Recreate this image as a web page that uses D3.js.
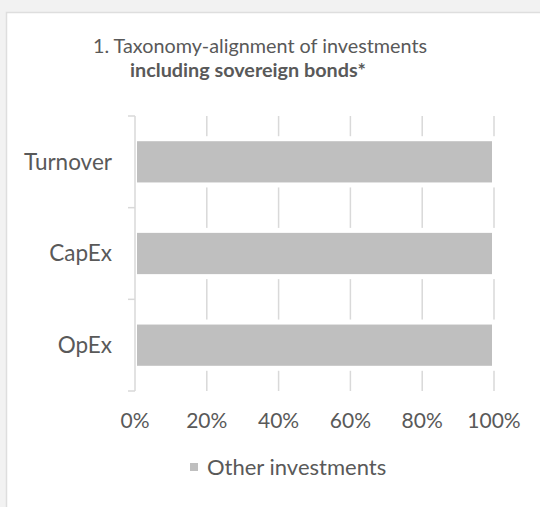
<!DOCTYPE html>
<html>
<head>
<meta charset="utf-8">
<script src="https://cdn.jsdelivr.net/npm/d3@7"></script>
<style>
  html, body { margin: 0; padding: 0; background: #f2f2f2; }
  svg { display: block; }
  text { font-family: Lato, "Open Sans", sans-serif; fill: #595959; }
</style>
</head>
<body>
<svg id="chart" width="540" height="507"></svg>
<script>
// chart values
var categories = ["Turnover", "CapEx", "OpEx"];
var otherInvestments = [1.0, 1.0, 1.0];
var xTicks = [0, 0.2, 0.4, 0.6, 0.8, 1.0];
var seriesName = "Other investments";
var titleLine1 = "1. Taxonomy-alignment of investments";
var titleLine2 = "including sovereign bonds*";

var svg = d3.select("#chart");

// white panel
svg.append("rect")
   .attr("x", 6.5).attr("y", 12.5)
   .attr("width", 560).attr("height", 520)
   .attr("fill", "#fff")
   .attr("stroke", "#dedede")
   .attr("stroke-width", 1.5);

var plotLeft = 135, plotRight = 494, plotTop = 116, plotBottom = 391;

var x = d3.scaleLinear().domain([0, 1]).range([plotLeft, plotRight]);
var y = d3.scaleBand().domain(categories).range([plotTop, plotBottom]).paddingInner(0.55).paddingOuter(0.275);

// gridlines
svg.append("g").selectAll("line")
   .data(xTicks.slice(1))
   .join("line")
   .attr("x1", d => x(d)).attr("x2", d => x(d))
   .attr("y1", plotTop).attr("y2", plotBottom)
   .attr("stroke", "#d9d9d9").attr("stroke-width", 1.5);

// bars with white gap round them
var bars = svg.append("g");
bars.selectAll("rect.gap")
   .data(categories)
   .join("rect")
   .attr("class", "gap")
   .attr("x", x(0))
   .attr("y", d => y(d) - 5)
   .attr("width", (d, i) => x(otherInvestments[i]) - x(0) + 3)
   .attr("height", y.bandwidth() + 10)
   .attr("fill", "#fff");
bars.selectAll("rect.bar")
   .data(categories)
   .join("rect")
   .attr("class", "bar")
   .attr("x", x(0) + 2)
   .attr("y", d => y(d))
   .attr("width", (d, i) => x(otherInvestments[i]) - x(0) - 4)
   .attr("height", y.bandwidth())
   .attr("fill", "#bfbfbf");

// category axis
var yAxis = svg.append("g");
yAxis.append("line")
   .attr("x1", plotLeft).attr("x2", plotLeft)
   .attr("y1", plotTop).attr("y2", plotBottom)
   .attr("stroke", "#d9d9d9").attr("stroke-width", 1.5);
var step = y.step();
yAxis.selectAll("line.tick")
   .data(d3.range(categories.length + 1))
   .join("line")
   .attr("class", "tick")
   .attr("x1", plotLeft - 7).attr("x2", plotLeft)
   .attr("y1", i => plotTop + i * step).attr("y2", i => plotTop + i * step)
   .attr("stroke", "#d9d9d9").attr("stroke-width", 1.5);
yAxis.selectAll("text")
   .data(categories)
   .join("text")
   .attr("x", plotLeft - 23)
   .attr("y", d => y(d) + y.bandwidth() / 2)
   .attr("dy", "0.35em")
   .attr("text-anchor", "end")
   .attr("font-size", 22.5)
   .text(d => d);

// value axis labels
svg.append("g").selectAll("text")
   .data(xTicks)
   .join("text")
   .attr("x", d => x(d))
   .attr("y", 428)
   .attr("text-anchor", "middle")
   .attr("font-size", 21)
   .text(d3.format(".0%"));

// title
svg.append("text")
   .attr("x", 260).attr("y", 53)
   .attr("text-anchor", "middle")
   .attr("font-size", 19.8)
   .text(titleLine1);
svg.append("text")
   .attr("x", 248).attr("y", 77)
   .attr("text-anchor", "middle")
   .attr("font-size", 19.8)
   .attr("font-weight", "bold")
   .text(titleLine2);

// legend
var legend = svg.append("g");
legend.append("rect")
   .attr("x", 190).attr("y", 463)
   .attr("width", 8).attr("height", 8)
   .attr("fill", "#bfbfbf");
legend.append("text")
   .attr("x", 207).attr("y", 475)
   .attr("font-size", 22)
   .text(seriesName);
</script>
</body>
</html>
